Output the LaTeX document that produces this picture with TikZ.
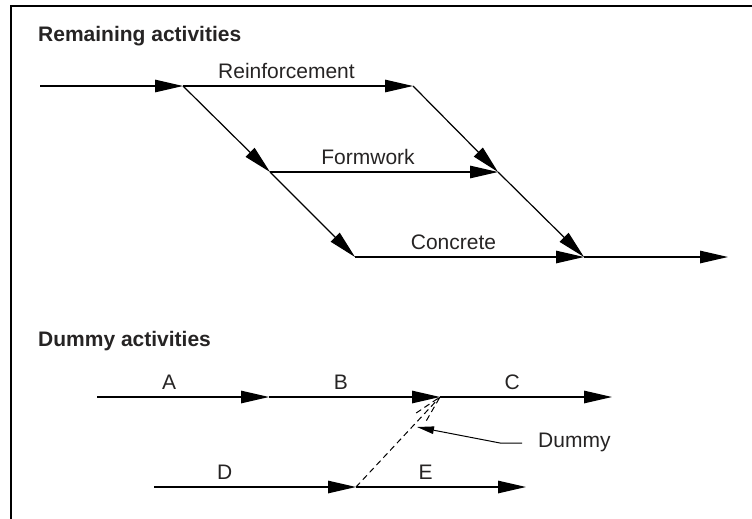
\documentclass[tikz,border=0pt]{standalone}
\usepackage{fontspec}
\setmainfont{Liberation Sans}
\usepackage{xcolor}
\usetikzlibrary{arrows.meta,calc}
\definecolor{ink}{RGB}{38,36,36}
\newcommand{\lblfont}{\fontsize{21}{25}\selectfont}
\tikzstyle{act} = [draw, line width=1.2pt, -{Triangle[length=28pt,width=12.5pt]}]
\tikzstyle{lbl} = [anchor=base, yshift=7.5pt, inner sep=0pt, text=ink, font=\lblfont]
\tikzstyle{heading} = [anchor=base west, inner sep=0pt, text=ink, font=\lblfont\bfseries]
\tikzstyle{dummyline} = [line width=1pt, dash pattern=on 6pt off 4pt]
\tikzstyle{lead} = [line width=1pt, -{Triangle[length=17pt,width=7.5pt]}]

\begin{document}
\begin{tikzpicture}[x=1pt, y=-1pt]
    \useasboundingbox (0,0) rectangle (752,519);
    % frame
    \draw[line width=1.5pt] (752,6) -- (11,6) -- (11,519);

    % remaining activities
    \node[heading] (head1) at (38,42) {Remaining activities};
    \coordinate (in) at (40,86);
    \coordinate (n1) at (183,86);
    \coordinate (n2) at (413,86);
    \coordinate (n3) at (270,172);
    \coordinate (n4) at (498,172);
    \coordinate (n5) at (355,257);
    \coordinate (n6) at (584,257);
    \coordinate (out) at (728,257);
    \draw[act] (in) -- (n1);
    \draw[act] (n1) -- node[lbl, pos=.45] (reinf) {Reinforcement} (n2);
    \draw[act] (n1) -- (n3);
    \draw[act] (n3) -- node[lbl, pos=.43] (form) {Formwork} (n4);
    \draw[act] (n2) -- (n4);
    \draw[act] (n3) -- (n5);
    \draw[act] (n5) -- node[lbl, pos=.43] (conc) {Concrete} (n6);
    \draw[act] (n4) -- (n6);
    \draw[act] (n6) -- (out);

    % dummy activities
    \node[heading] (head2) at (38,346) {Dummy activities};
    \coordinate (a0) at (97,397);
    \coordinate (a1) at (269,397);
    \coordinate (a2) at (440,397);
    \coordinate (a3) at (612,397);
    \coordinate (b0) at (154,487);
    \coordinate (b1) at (356,487);
    \coordinate (b2) at (526,487);
    \draw[act] (a0) -- node[lbl, pos=.42] (la) {A} (a1);
    \draw[act] (a1) -- node[lbl, pos=.42] (lb) {B} (a2);
    \draw[act] (a2) -- node[lbl, pos=.42] (lc) {C} (a3);
    \draw[act] (b0) -- node[lbl, pos=.35] (ld) {D} (b1);
    \draw[act] (b1) -- node[lbl, pos=.41] (le) {E} (b2);

    % dashed dummy with open head
    \coordinate (hb) at ($(a2)!28pt!(b1)$);
    \coordinate (h1) at ($(hb)!6.5pt!90:(a2)$);
    \coordinate (h2) at ($(hb)!6.5pt!-90:(a2)$);
    \draw[dummyline] (b1) -- (a2);
    \draw[dummyline] (h1) -- (a2) -- (h2);

    % callout
    \node[lbl, anchor=base west, yshift=0pt] (dummy) at (538,455) {Dummy};
    \coordinate (lend) at (522,443);
    \coordinate (kink) at (500,443);
    \coordinate (ltip) at (417,427);
    \draw[lead] (lend) -- (kink) -- (ltip);
\end{tikzpicture}
\end{document}
